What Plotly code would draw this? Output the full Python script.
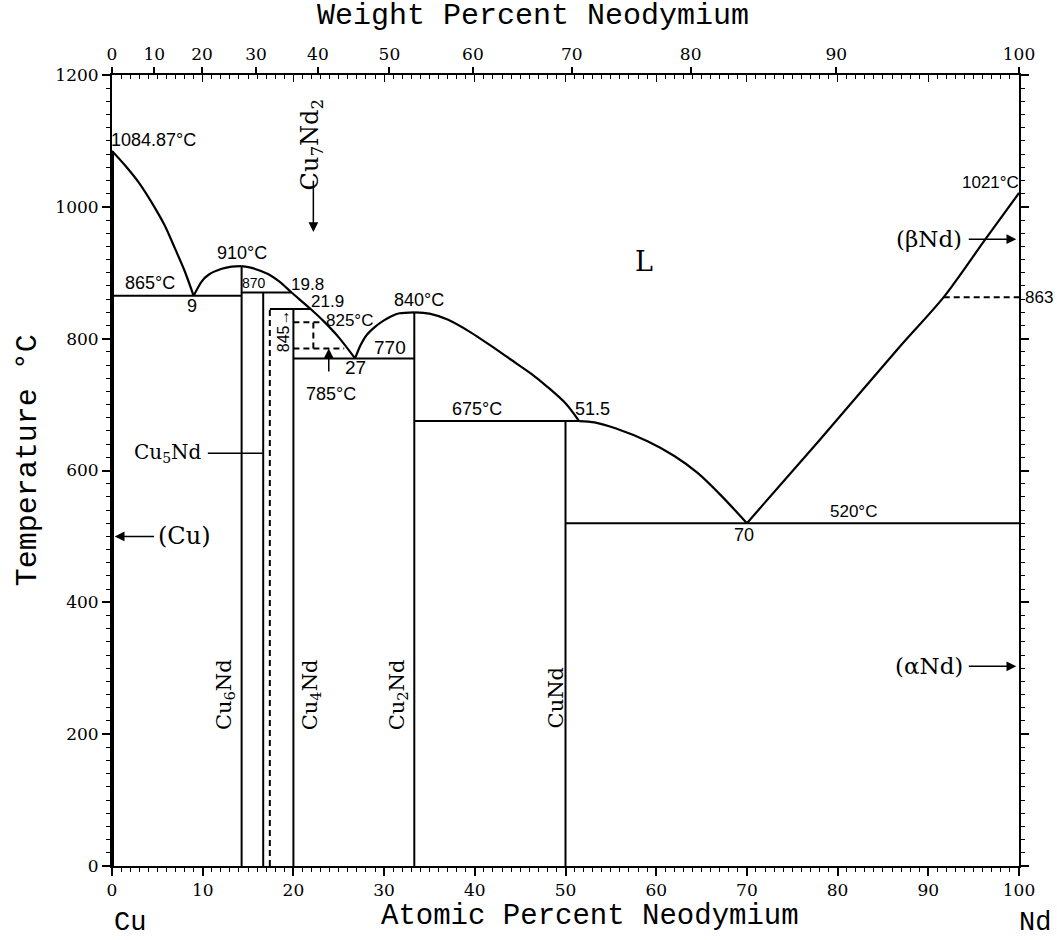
import plotly.graph_objects as go

# ---------------- data (at.% Nd, temperature °C) ----------------
M_CU, M_ND = 63.546, 144.24

liq1_x = [0, 1.5, 3, 4.4, 5.8, 7.0, 8.0, 9]
liq1_t = [1084.87, 1062, 1036, 1006, 972, 935, 903, 865]
liq2_x = [9, 9.9, 10.65, 12.1, 13.2, 14.29]
liq2_t = [865, 887, 897, 906, 909.3, 910]
liq3_x = [14.29, 15.5, 17.2, 18.5, 19.8, 21.9, 23.3, 25.0, 26.8]
liq3_t = [910, 907, 898, 886, 870, 845, 827, 802, 770]
liq4_x = [26.8, 27.4, 28.1, 29.0, 29.9, 30.8, 31.7, 33.33]
liq4_t = [770, 790, 806, 818, 827, 834, 838.5, 840]
liq5_x = [33.33, 35, 37, 39.5, 41.8, 44, 46.2, 48, 50, 51.5]
liq5_t = [840, 838, 829, 810, 789, 768, 747, 727, 702, 675]
liq6_x = [51.5, 53.2, 55.5, 59.1, 62, 64.6, 67.3, 70]
liq6_t = [675, 673, 664, 644, 622, 596, 560, 520]
liq7_x = [70, 78, 86.8, 91.7, 96.3, 100]
liq7_t = [520, 646, 787, 863, 951, 1021]

# invariant (horizontal) lines
inv_x0 = [0, 14.29, 17.4, 20, 33.33, 50]
inv_x1 = [14.29, 19.8, 21.9, 33.33, 51.5, 100]
inv_t = [865, 870, 845, 770, 675, 520]

# compounds: composition and upper temperature
cmp_x = [14.29, 16.67, 20.0, 33.33, 50.0]
cmp_t = [910, 870, 845, 840, 675]

# dashed lines
dash_h_x0 = [20, 20, 91.7]
dash_h_x1 = [23.3, 25.6, 100]
dash_h_t = [825, 785, 863]
dash_v_x = [22.2, 17.4]
dash_v_t0 = [785, 0]
dash_v_t1 = [825, 845]

cu_melt = 1084.87

wt_ticks = [0, 10, 20, 30, 40, 50, 60, 70, 80, 90, 100]
at_ticks = [0, 10, 20, 30, 40, 50, 60, 70, 80, 90, 100]
t_ticks = [0, 200, 400, 600, 800, 1000, 1200]


def wt_to_at(w):
    if w >= 100:
        return 100.0
    a = w / M_ND
    b = (100 - w) / M_CU
    return 100 * a / (a + b)


wt_pos = [wt_to_at(w) for w in wt_ticks]

# ---------------- figure ----------------
fig = go.Figure()
K = "black"


def seg_lines(xs0, xs1, ys0, ys1):
    X, Y = [], []
    for a, b, c, d in zip(xs0, xs1, ys0, ys1):
        X += [a, b, None]
        Y += [c, d, None]
    return X, Y


# liquidus
for xs, ts in [(liq1_x, liq1_t), (liq2_x, liq2_t), (liq3_x, liq3_t), (liq4_x, liq4_t),
               (liq5_x, liq5_t), (liq6_x, liq6_t), (liq7_x, liq7_t)]:
    fig.add_trace(go.Scatter(x=xs, y=ts, mode="lines", line=dict(color=K, width=2.2, shape="spline", smoothing=0.8),
                             hoverinfo="skip", showlegend=False))

# horizontals
X, Y = seg_lines(inv_x0, inv_x1, inv_t, inv_t)
fig.add_trace(go.Scatter(x=X, y=Y, mode="lines", line=dict(color=K, width=2), hoverinfo="skip", showlegend=False))

# compounds verticals
X, Y = seg_lines(cmp_x, cmp_x, [0] * len(cmp_x), cmp_t)
fig.add_trace(go.Scatter(x=X, y=Y, mode="lines", line=dict(color=K, width=2), hoverinfo="skip", showlegend=False))

# Cu side
fig.add_trace(go.Scatter(x=[0, 0], y=[0, cu_melt], mode="lines", line=dict(color=K, width=4),
                         hoverinfo="skip", showlegend=False))

# dashed
X, Y = seg_lines(dash_h_x0, dash_h_x1, dash_h_t, dash_h_t)
fig.add_trace(go.Scatter(x=X, y=Y, mode="lines", line=dict(color=K, width=2, dash="6px,4px"),
                         hoverinfo="skip", showlegend=False))
X, Y = seg_lines(dash_v_x, dash_v_x, dash_v_t0, dash_v_t1)
fig.add_trace(go.Scatter(x=X, y=Y, mode="lines", line=dict(color=K, width=2, dash="6px,4px"),
                         hoverinfo="skip", showlegend=False))

# dummy traces for overlay axes
fig.add_trace(go.Scatter(x=[None], y=[None], xaxis="x2", yaxis="y", showlegend=False, hoverinfo="skip"))
fig.add_trace(go.Scatter(x=[None], y=[None], xaxis="x3", yaxis="y", showlegend=False, hoverinfo="skip"))

SANS = "Liberation Sans"
SERIF = "DejaVu Serif"
MONO = "Liberation Mono"
TICKF = "DejaVu Serif"

ann = []


def txt(t, x, y, size=16, font=SANS, angle=0, xanchor="center", yanchor="middle", **kw):
    d = dict(text=t, x=x, y=y, xref="x", yref="y", showarrow=False, textangle=angle,
             font=dict(family=font, size=size, color=K), xanchor=xanchor, yanchor=yanchor)
    d.update(kw)
    ann.append(d)


def arrow(x0, y0, x1, y1, head=2):
    ann.append(dict(text="", x=x1, y=y1, ax=x0, ay=y0, xref="x", yref="y", axref="x", ayref="y",
                    showarrow=True, arrowhead=head, arrowsize=1.3, arrowwidth=1.5, arrowcolor=K))


txt("1084.87°C", 0, 1102, 18, xanchor="left", xshift=-3)
txt("910°C", 14.3, 930, 18)
txt("865°C", 4.2, 884, 18)
txt("9", 8.8, 849, 18)
txt("870", 15.7, 885, 14)
txt("19.8", 21.6, 882, 17)
txt("21.9", 23.8, 857, 17)
txt("825°C", 26.2, 828, 17)
txt("770", 30.7, 787, 19)
txt("27", 26.8, 756, 19)
txt("785°C", 24.2, 716, 18)
txt("845→", 18.9, 812, 16, angle=-90)
txt("840°C", 33.9, 859, 18)
txt("675°C", 40.2, 694, 18)
txt("51.5", 53.0, 693, 18)
txt("70", 69.7, 502, 18)
txt("520°C", 81.8, 538, 17)
txt("1021°C", 96.9, 1037, 17)
txt("863", 100, 863, 17, xanchor="left", xshift=4)
txt("L", 58.7, 917, 27, font=SERIF)
txt("(βNd)", 93.9, 951, 23, font=SERIF, xanchor="right")
txt("(αNd)", 94.0, 303, 23, font=SERIF, xanchor="right")
txt("(Cu)", 4.9, 500, 24, font=SERIF, xanchor="left")
txt("Cu<sub>5</sub>Nd", 10.1, 626, 20, font=SERIF, xanchor="right")
txt("Cu<sub>7</sub>Nd<sub>2</sub>", 22.0, 1094, 24, font=SERIF, angle=-90)
txt("Cu<sub>6</sub>Nd", 12.4, 260, 21, font=SERIF, angle=-90)
txt("Cu<sub>4</sub>Nd", 21.9, 260, 21, font=SERIF, angle=-90)
txt("Cu<sub>2</sub>Nd", 31.5, 260, 21, font=SERIF, angle=-90)
txt("CuNd", 48.9, 255, 21, font=SERIF, angle=-90)

arrow(4.8, 500, 0.3, 500)
arrow(94.3, 951, 99.7, 951)
arrow(94.3, 303, 99.7, 303)
arrow(22.2, 1042, 22.2, 962)
arrow(23.9, 748, 23.9, 785)
ann.append(dict(text="", x=16.67, y=626, ax=10.4, ay=626, xref="x", yref="y", axref="x", ayref="y",
                showarrow=True, arrowhead=0, arrowwidth=1.5, arrowcolor=K))

# axis titles and end labels
ann.append(dict(text="Atomic Percent Neodymium", x=0.527, y=0, xref="paper", yref="paper", showarrow=False,
                xanchor="center", yanchor="middle", yshift=-50, font=dict(family=MONO, size=29, color=K)))
ann.append(dict(text="Weight Percent Neodymium", x=0.464, y=1, xref="paper", yref="paper", showarrow=False,
                xanchor="center", yanchor="middle", yshift=59, font=dict(family=MONO, size=30, color=K)))
ann.append(dict(text="Temperature °C", x=0, y=0.513, xref="paper", yref="paper", showarrow=False,
                xanchor="center", yanchor="middle",
                xshift=-84, textangle=-90, font=dict(family=MONO, size=30, color=K)))
ann.append(dict(text="Cu", x=0.02, y=0, xref="paper", yref="paper", showarrow=False,
                xanchor="center", yanchor="middle", yshift=-57, font=dict(family=MONO, size=27, color=K)))
ann.append(dict(text="Nd", x=1.0, y=0, xref="paper", yref="paper", showarrow=False,
                xanchor="center", yanchor="middle", yshift=-57, xshift=16, font=dict(family=MONO, size=27, color=K)))

tickfont = dict(family=TICKF, size=17, color=K)
fig.update_layout(
    width=1057, height=940,
    margin=dict(l=112, r=38, t=75, b=74),
    paper_bgcolor="white", plot_bgcolor="white",
    showlegend=False,
    annotations=ann,
    xaxis=dict(range=[0, 100], tickmode="array", tickvals=at_ticks, ticktext=[str(v) for v in at_ticks],
               ticks="outside", ticklen=8, tickwidth=1.5, tickcolor=K,
               minor=dict(dtick=1, ticks="outside", ticklen=4, tickwidth=1, tickcolor=K),
               showline=True, linewidth=2, linecolor=K, mirror=True,
               showgrid=False, zeroline=False, tickfont=tickfont),
    xaxis2=dict(range=[0, 100], overlaying="x", side="top", anchor="y",
                tickmode="array", tickvals=wt_pos, ticktext=[str(v) for v in wt_ticks],
                ticks="outside", ticklen=7, tickwidth=1.5, tickcolor=K,
                showline=False, showgrid=False, zeroline=False, tickfont=tickfont),
    xaxis3=dict(range=[0, 100], overlaying="x", side="top", anchor="y",
                tickmode="linear", tick0=0, dtick=10, showticklabels=False,
                ticks="inside", ticklen=7, tickwidth=1.2, tickcolor=K,
                minor=dict(dtick=1, ticks="inside", ticklen=4, tickwidth=1, tickcolor=K),
                showline=False, showgrid=False, zeroline=False),
    yaxis=dict(range=[0, 1200], tickmode="array", tickvals=t_ticks, ticktext=[str(v) for v in t_ticks],
               ticks="outside", ticklen=8, tickwidth=1.5, tickcolor=K,
               minor=dict(dtick=20, ticks="outside", ticklen=4, tickwidth=1, tickcolor=K),
               showline=True, linewidth=2, linecolor=K, mirror="ticks",
               showgrid=False, zeroline=False, tickfont=tickfont),
)

fig.write_html("out.html")
